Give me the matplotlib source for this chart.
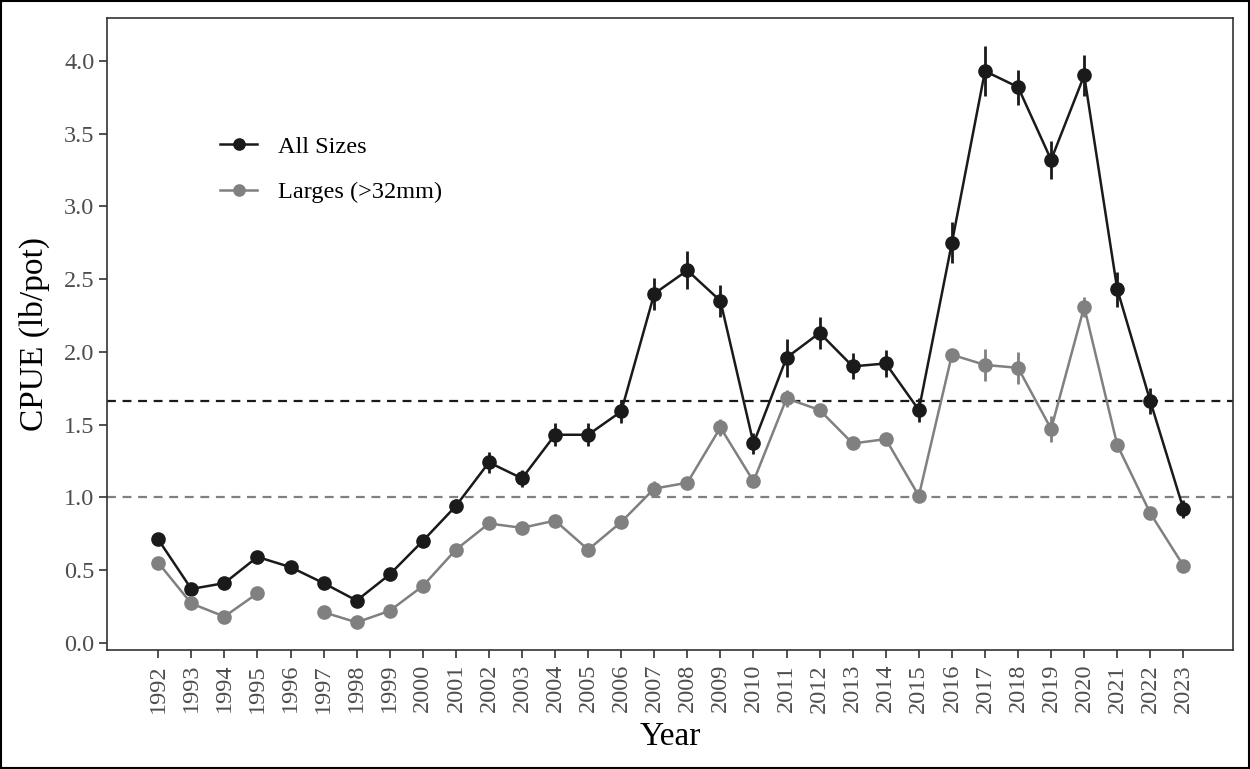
import numpy as np
import matplotlib
matplotlib.use("Agg")
import matplotlib.pyplot as plt
from matplotlib.patches import Rectangle

plt.rcParams['font.family'] = ['Liberation Serif', 'DejaVu Serif']

years = list(range(1992, 2024))

all_sizes = [0.71, 0.37, 0.41, 0.59, 0.52, 0.41, 0.29, 0.47, 0.70, 0.94,
             1.24, 1.13, 1.43, 1.43, 1.59, 2.40, 2.56, 2.35, 1.37, 1.96,
             2.13, 1.90, 1.92, 1.60, 2.75, 3.93, 3.82, 3.32, 3.90, 2.43,
             1.66, 0.92]
all_sizes_se = [0.03, 0.02, 0.02, 0.03, 0.02, 0.02, 0.02, 0.03, 0.04, 0.05,
                0.07, 0.06, 0.08, 0.08, 0.08, 0.11, 0.13, 0.11, 0.07, 0.13,
                0.11, 0.09, 0.09, 0.08, 0.14, 0.17, 0.12, 0.13, 0.14, 0.12,
                0.09, 0.06]

larges = [0.55, 0.27, 0.18, 0.34, np.nan, 0.21, 0.14, 0.22, 0.39, 0.64,
          0.82, 0.79, 0.84, 0.64, 0.83, 1.06, 1.10, 1.48, 1.11, 1.68,
          1.60, 1.37, 1.40, 1.01, 1.98, 1.91, 1.89, 1.47, 2.31, 1.36,
          0.89, 0.53]
larges_se = [0.02, 0.02, 0.02, 0.02, np.nan, 0.02, 0.02, 0.02, 0.02, 0.03,
             0.03, 0.03, 0.03, 0.03, 0.03, 0.05, 0.04, 0.06, 0.04, 0.06,
             0.04, 0.03, 0.03, 0.03, 0.04, 0.11, 0.11, 0.09, 0.07, 0.03,
             0.03, 0.02]

ref_all = 1.66
ref_large = 1.0

series_labels = ["All Sizes", "Larges (>32mm)"]
c_all = "#1a1a1a"
c_large = "#808080"

fig = plt.figure(figsize=(12.5, 7.69), dpi=100)
ax = fig.add_axes([0.0856, 0.1547, 0.9008, 0.8219])

ax.axhline(ref_all, color=c_all, ls=(0, (4, 3)), lw=1.6, zorder=1)
ax.axhline(ref_large, color=c_large, ls=(0, (4, 3)), lw=1.6, zorder=1)

for vals, se, col, lab in [(all_sizes, all_sizes_se, c_all, series_labels[0]),
                           (larges, larges_se, c_large, series_labels[1])]:
    v = np.array(vals, dtype=float)
    s = np.array(se, dtype=float)
    ax.vlines(years, v - s, v + s, color=col, lw=2.0, zorder=2)
    ax.plot(years, v, color=col, lw=1.8, marker="o", ms=9.5, zorder=3, label=lab)

ax.set_xlim(1990.45, 2024.5)
ax.set_ylim(-0.05, 4.295)
ax.set_xticks(years)
ax.set_xticklabels([str(y) for y in years], rotation=90, fontsize=17.5, color="#4d4d4d")
yt = np.arange(0, 4.01, 0.5)
ax.set_yticks(yt)
ax.set_yticklabels([f"{t:.1f}" for t in yt], fontsize=17.5, color="#4d4d4d")
ax.tick_params(axis="both", length=6, width=1.2, color="#333333")
ax.tick_params(axis="x", pad=4)
ax.tick_params(axis="y", pad=3)
for sp in ax.spines.values():
    sp.set_color("#333333")
    sp.set_linewidth(1.2)

ax.set_xlabel("Year", fontsize=24, labelpad=6)
ax.set_ylabel("CPUE (lb/pot)", fontsize=24, labelpad=10)

leg = ax.legend(loc="upper left", bbox_to_anchor=(0.0915, 0.829), frameon=False,
                fontsize=17.5, handlelength=1.55, labelspacing=0.96,
                handletextpad=0.85, borderaxespad=0.0, markerscale=0.85)

fig.patches.append(Rectangle((0.001, 0.001), 0.998, 0.998, transform=fig.transFigure,
                             fill=False, edgecolor="black", lw=1.5))

fig.savefig("out.png", dpi=100, facecolor="white")
